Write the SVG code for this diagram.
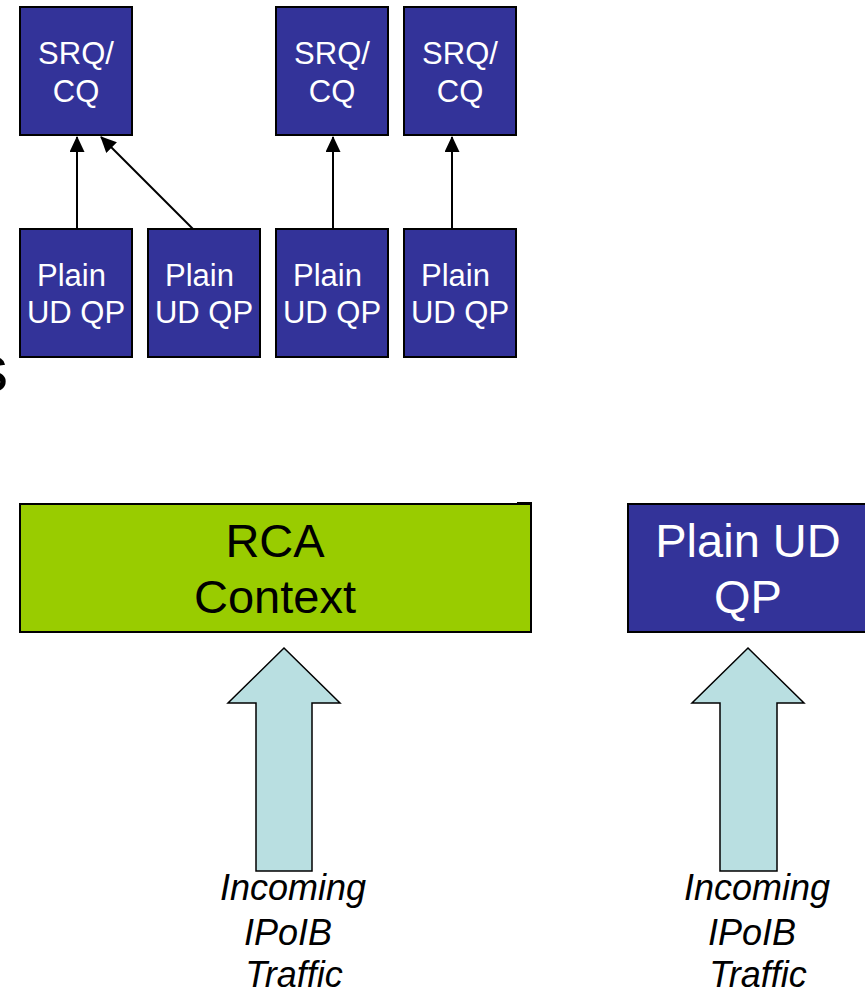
<svg xmlns="http://www.w3.org/2000/svg" width="865" height="992" viewBox="0 0 865 992">
  <style>
    .q { fill: #333399; stroke: #000; stroke-width: 2; }
    .rca { fill: #99CC00; stroke: #000; stroke-width: 2; }
    .flow { fill: #B9DFE1; stroke: #000; stroke-width: 1.5; stroke-linejoin: miter; }
    .lbl { font-family: "Liberation Sans", Arial, sans-serif; fill: #fff; font-size: 31px; text-anchor: middle; }
    .big { font-family: "Liberation Sans", Arial, sans-serif; font-size: 47px; text-anchor: middle; }
    .cap { font-family: "Liberation Sans", Arial, sans-serif; font-size: 36px; font-style: italic; fill: #000; text-anchor: middle; }
    .link { stroke: #000; stroke-width: 2; fill: none; marker-end: url(#tip); }
  </style>
  <defs>
    <marker id="tip" viewBox="0 0 16 15" refX="15" refY="7.5" markerWidth="16" markerHeight="15" markerUnits="userSpaceOnUse" orient="auto">
      <path d="M0,0 L16,7.5 L0,15 z" fill="#000"/>
    </marker>
  </defs>
  <rect width="865" height="992" fill="#fff"/>

  <!-- trailing letter of a heading cut by the left edge -->
  <text x="-24" y="391" font-family="Liberation Sans, Arial, sans-serif" font-size="64" fill="#000">s</text>

  <!-- completion / shared receive queues -->
  <g id="srq1"><rect class="q" x="20" y="7" width="112" height="128"/><text class="lbl" x="76" y="64">SRQ/</text><text class="lbl" x="76" y="102">CQ</text></g>
  <g id="srq2"><rect class="q" x="276" y="7" width="112" height="128"/><text class="lbl" x="332" y="64">SRQ/</text><text class="lbl" x="332" y="102">CQ</text></g>
  <g id="srq3"><rect class="q" x="404" y="7" width="112" height="128"/><text class="lbl" x="460" y="64">SRQ/</text><text class="lbl" x="460" y="102">CQ</text></g>

  <!-- plain UD queue pairs -->
  <g id="qp1"><rect class="q" x="20" y="229" width="112" height="128"/><text class="lbl" x="71.5" y="286">Plain</text><text class="lbl" x="76" y="323">UD QP</text></g>
  <g id="qp2"><rect class="q" x="148" y="229" width="112" height="128"/><text class="lbl" x="199.5" y="286">Plain</text><text class="lbl" x="204" y="323">UD QP</text></g>
  <g id="qp3"><rect class="q" x="276" y="229" width="112" height="128"/><text class="lbl" x="327.5" y="286">Plain</text><text class="lbl" x="332" y="323">UD QP</text></g>
  <g id="qp4"><rect class="q" x="404" y="229" width="112" height="128"/><text class="lbl" x="455.5" y="286">Plain</text><text class="lbl" x="460" y="323">UD QP</text></g>

  <g id="connectors">
    <line class="link" x1="77" y1="229" x2="77" y2="137"/>
    <line class="link" x1="193" y1="229" x2="101" y2="137"/>
    <line class="link" x1="333" y1="229" x2="333" y2="137"/>
    <line class="link" x1="452" y1="229" x2="452" y2="137"/>
  </g>

  <!-- receive contexts -->
  <g id="rca">
    <rect class="rca" x="20" y="504" width="511" height="128"/>
    <path d="M517,503 H531 V506" stroke="#000" stroke-width="2" fill="none"/>
    <text class="big" x="275" y="557" fill="#000">RCA</text>
    <text class="big" x="275" y="613" fill="#000">Context</text>
  </g>
  <g id="udqp">
    <rect class="q" x="628" y="504" width="250" height="128"/>
    <text class="big" x="748" y="557" fill="#fff">Plain UD</text>
    <text class="big" x="748" y="613" fill="#fff">QP</text>
  </g>

  <!-- incoming traffic -->
  <g id="traffic-left">
    <path class="flow" d="M284,648 L340,703 L312,703 L312,871 L256,871 L256,703 L228,703 Z"/>
    <text class="cap" x="293" y="900">Incoming</text>
    <text class="cap" x="288" y="945">IPoIB</text>
    <text class="cap" x="294" y="987">Traffic</text>
  </g>
  <g id="traffic-right">
    <path class="flow" d="M748,648 L804,703 L777,703 L777,871 L720,871 L720,703 L692,703 Z"/>
    <text class="cap" x="757" y="900">Incoming</text>
    <text class="cap" x="752" y="945">IPoIB</text>
    <text class="cap" x="758" y="987">Traffic</text>
  </g>
</svg>
